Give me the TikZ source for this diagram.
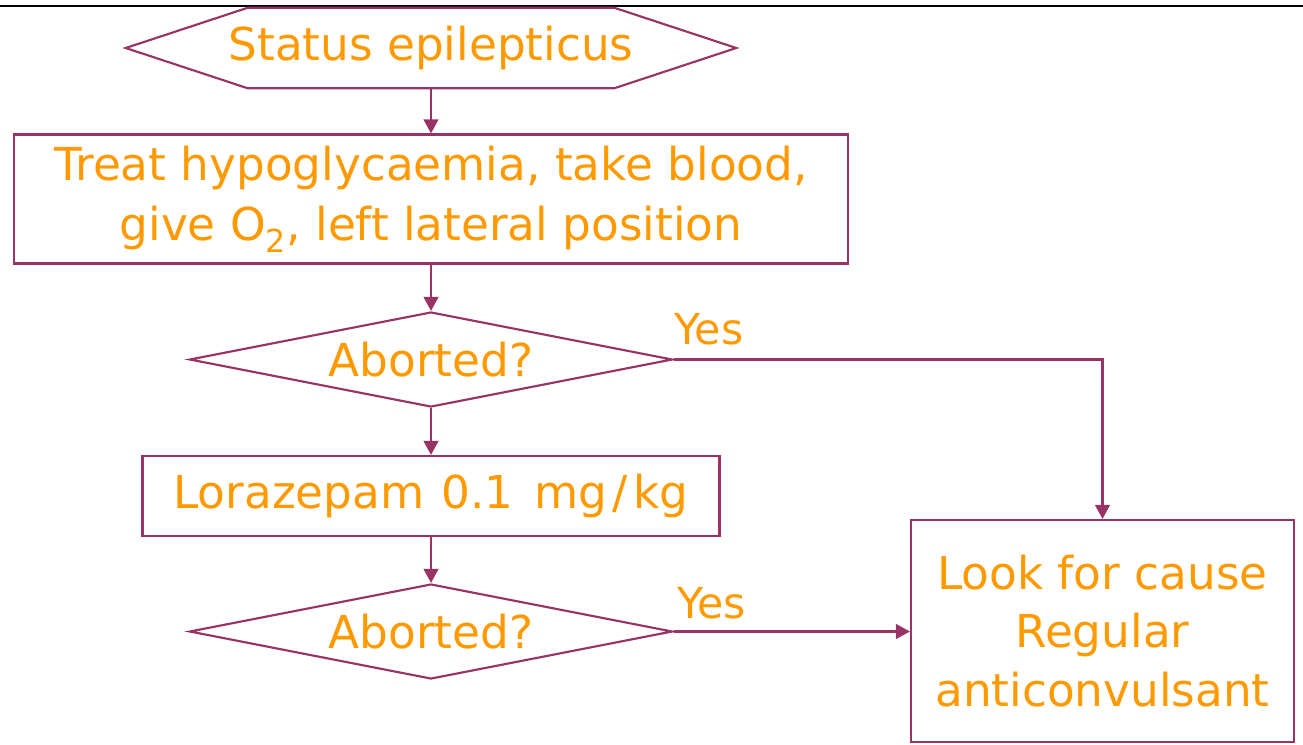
\documentclass[tikz,border=0pt]{standalone}
\usepackage{fontspec}
\setmainfont{DejaVu Sans}
\usetikzlibrary{shapes.geometric,arrows.meta}
\definecolor{txtor}{HTML}{FF9900}
\definecolor{lnpur}{HTML}{993366}
\tikzset{
  boxnode/.style={draw=lnpur,line width=1.6pt,rectangle,inner sep=0pt,align=center,text=txtor,font=\fontsize{34}{45}\selectfont},
  decnode/.style={draw=lnpur,line width=1.6pt,diamond,inner sep=0pt,align=center,text=txtor,font=\fontsize{34}{45}\selectfont},
  hexnode/.style={draw=none,rectangle,inner sep=0pt,text=txtor,font=\fontsize{34}{45}\selectfont},
  flow/.style={draw=lnpur,line width=1.6pt,-{Triangle[width=11pt,length=10.5pt]}},
  yeslab/.style={text=txtor,font=\fontsize{32}{38}\selectfont,inner sep=0pt,anchor=base west}
}
\begin{document}
\begin{tikzpicture}[x=0.75pt,y=-0.75pt]
\useasboundingbox (0,0) rectangle (1303,744);
\coordinate (tl) at (0,6);
\coordinate (tr) at (1303,6);
\draw[black,line width=1.1pt] (tl) -- (tr);
% hexagon start
\node[hexnode,minimum width=457.5pt,minimum height=60pt] (start) at (431,48) {Status epilepticus};
\draw[lnpur,line width=1.6pt,line join=miter]
  (start.west) -- ([xshift=91.5pt]start.north west) -- ([xshift=-91.5pt]start.north east)
  -- (start.east) -- ([xshift=-91.5pt]start.south east) -- ([xshift=91.5pt]start.south west) -- cycle;
\node[boxnode,minimum width=625.5pt,minimum height=96.75pt] (treat) at (431,199)
  {Treat hypoglycaemia, take blood,\\give O\textsubscript{2}, left lateral position};
\node[decnode,minimum width=362.25pt,minimum height=71.25pt,aspect=5.08] (ab1) at (431,359.5) {Aborted?};
\node[boxnode,minimum width=432.75pt,minimum height=60pt] (lora) at (431,496)
  {Lorazepam\hspace{2pt} 0.1\hspace{5pt} mg\hspace{4pt}/\hspace{4pt}kg};
\node[decnode,minimum width=362.25pt,minimum height=71.25pt,aspect=5.08] (ab2) at (431,631.5) {Aborted?};
\node[boxnode,minimum width=287.25pt,minimum height=166.5pt,font=\fontsize{34}{44}\selectfont] (cause) at (1102.5,631)
  {Look for cause\\Regular\\anticonvulsant};
% connectors
\draw[flow] (start.south) -- (treat.north);
\draw[flow] (treat.south) -- (ab1.north);
\draw[flow] (ab1.south) -- (lora.north);
\draw[flow] (lora.south) -- (ab2.north);
\draw[flow] (ab1.east) -| (cause.north);
\draw[flow] (ab2.east) -- (ab2.east -| cause.west);
% labels
\node[yeslab] (yes1) at ([xshift=0.5pt,yshift=11.5pt]ab1.east) {Yes};
\node[yeslab] (yes2) at ([xshift=2.5pt,yshift=10pt]ab2.east) {Yes};
\end{tikzpicture}
\end{document}
